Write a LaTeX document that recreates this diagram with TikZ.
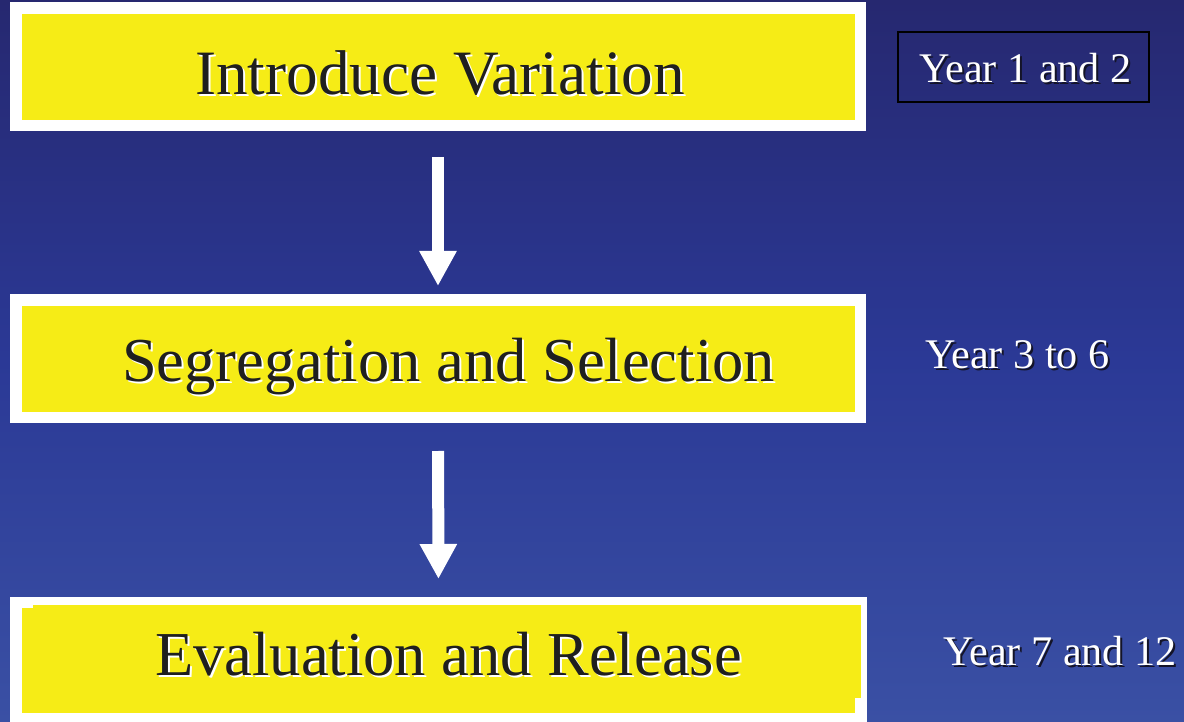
\documentclass[tikz,border=0pt]{standalone}
\usepackage{fontspec}
\setmainfont{Liberation Serif}
\usetikzlibrary{arrows.meta}
\definecolor{bgtop}{RGB}{38,40,112}
\definecolor{bgmid}{RGB}{43,57,150}
\definecolor{bgbot}{RGB}{58,80,164}
\definecolor{boxyellow}{RGB}{246,236,22}
\definecolor{shadowdark}{RGB}{20,20,40}
\tikzset{
  outerbox/.style={fill=white, draw=none, inner sep=0, outer sep=0},
  innerbox/.style={fill=boxyellow, draw=none, inner sep=0, outer sep=0},
  maintext/.style={inner sep=0, anchor=base west, font=\fontsize{62.5}{70}\selectfont},
  mainshadow/.style={maintext, text=white},
  mainfront/.style={maintext, text=black!88},
  yeartext/.style={inner sep=0, anchor=base west, font=\fontsize{42.2}{48}\selectfont},
  yearshadow/.style={yeartext, text=shadowdark},
  yearfront/.style={yeartext, text=white},
  flowarrow/.style={draw=white, line width=12pt, -{Triangle[width=35pt,length=35pt]}, fill=white},
}
\begin{document}
\begin{tikzpicture}[x=1pt,y=-1pt]
\useasboundingbox (0,0) rectangle (1184,722);
\shade[top color=bgtop, bottom color=bgbot, middle color=bgmid] (0,0) rectangle (1184,722);
% box 1
\node[outerbox, minimum width=856pt, minimum height=129pt] (b1o) at (438,66.5) {};
\node[innerbox, minimum width=833pt, minimum height=106pt] (b1) at (438.5,67) {};
\node[mainshadow, font=\fontsize{63.2}{70}\selectfont] (t1s) at (197,96.5) {Introduce Variation};
\node[mainfront, font=\fontsize{63.2}{70}\selectfont] (t1) at (195,94.5) {Introduce Variation};
% box 2
\node[outerbox, minimum width=856pt, minimum height=129pt] (b2o) at (438,358.5) {};
\node[innerbox, minimum width=833pt, minimum height=106pt] (b2) at (438.5,359) {};
\node[mainshadow] (t2s) at (124,383) {Segregation and Selection};
\node[mainfront] (t2) at (122,381) {Segregation and Selection};
% box 3
\node[outerbox, minimum width=857pt, minimum height=126pt] (b3o) at (438.5,660) {};
\fill[boxyellow] (33,605) rectangle (861,698);
\fill[boxyellow] (22,608) rectangle (855,713);
\node[mainshadow] (t3s) at (157,677) {Evaluation and Release};
\node[mainfront] (t3) at (155,675) {Evaluation and Release};
% arrows
\draw[flowarrow, shorten <=26pt, shorten >=8pt] (b1o.south) -- (b2o.north);
\draw[flowarrow, shorten <=28pt, shorten >=18pt] (b2o.south) -- (b3o.north);
% year labels
\node[draw=black, line width=2pt, minimum width=251pt, minimum height=70pt, inner sep=0] (y1box) at (1023.5,67) {};
\node[yearshadow] (y1s) at (921,84.5) {Year 1 and 2};
\node[yearfront] (y1) at (919,82.5) {Year 1 and 2};
\node[yearshadow] (y2s) at (927,370.5) {Year 3 to 6};
\node[yearfront] (y2) at (925,368.5) {Year 3 to 6};
\node[yearshadow] (y3s) at (945,667) {Year 7 and 12};
\node[yearfront] (y3) at (943,665) {Year 7 and 12};
\end{tikzpicture}
\end{document}
